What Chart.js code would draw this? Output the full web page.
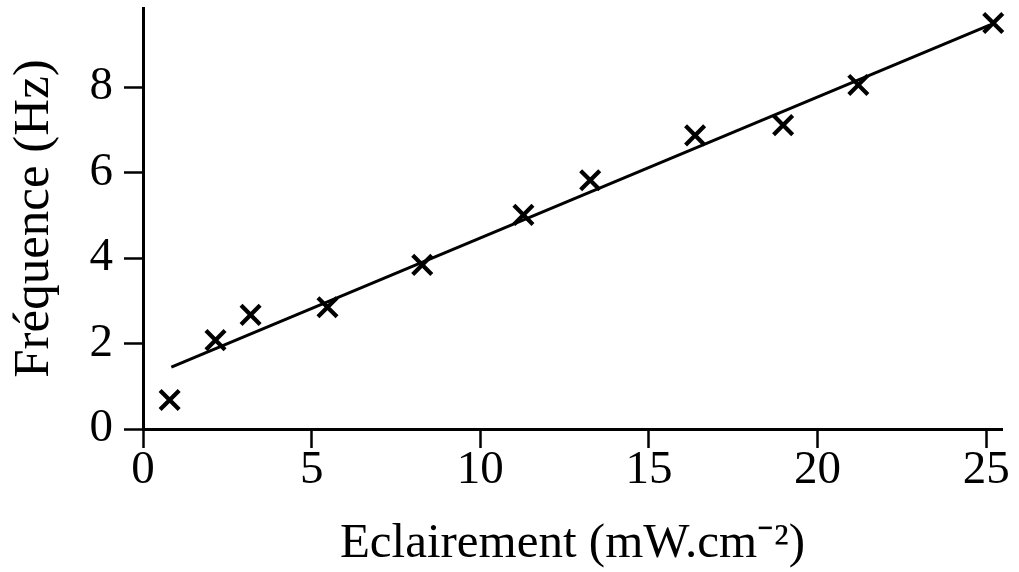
<!DOCTYPE html>
<html>
<head>
<meta charset="utf-8">
<script src="https://cdn.jsdelivr.net/npm/chart.js@4"></script>
<style>
  html, body { margin: 0; padding: 0; background: #fff; }
  #wrap { width: 1019px; height: 572px; position: relative; }
</style>
</head>
<body>
<div id="wrap"><canvas id="c"></canvas></div>
<script>
// Data
const eclairement = [0.79, 2.15, 3.19, 5.47, 8.28, 11.28, 13.26, 16.37, 18.98, 21.21, 25.21];
const frequence   = [0.68, 2.08, 2.67, 2.85, 3.84, 5.01, 5.82, 6.87, 7.11, 8.05, 9.50];
const fitX = [0.84, 25.1];
const fitY = [1.45, 9.45];
const xTicks = [0, 5, 10, 15, 20, 25];
const yTicks = [0, 2, 4, 6, 8];
const xTitle = 'Eclairement (mW.cm⁻²)';
const yTitle = 'Fréquence (Hz)';

const serif = "'Liberation Serif', 'Times New Roman', serif";

new Chart(document.getElementById('c'), {
  type: 'scatter',
  data: {
    datasets: [
      {
        data: eclairement.map((x, i) => ({ x, y: frequence[i] })),
        pointStyle: 'crossRot',
        pointRadius: 13.5,
        pointBorderWidth: 4.2,
        borderColor: '#000',
        backgroundColor: '#000',
        showLine: false,
        clip: false
      },
      {
        data: fitX.map((x, i) => ({ x, y: fitY[i] })),
        showLine: true,
        borderColor: '#000',
        borderWidth: 3,
        pointRadius: 0,
        fill: false,
        clip: false
      }
    ]
  },
  options: {
    responsive: true,
    maintainAspectRatio: false,
    animation: false,
    layout: { autoPadding: false, padding: { top: 8, right: 17, left: 0, bottom: 0 } },
    plugins: { legend: { display: false }, tooltip: { enabled: false } },
    scales: {
      x: {
        type: 'linear',
        min: 0, max: 25.47,
        afterBuildTicks: s => { s.ticks = xTicks.map(v => ({ value: v })); },
        afterFit: s => { s.height = 143; s.paddingLeft = 0; s.paddingRight = 0; },
        grid: { drawOnChartArea: false, drawTicks: true, tickLength: 19, tickColor: '#000', tickWidth: 2.5 },
        border: { display: true, color: '#000', width: 3 },
        ticks: { color: '#000', font: { family: serif, size: 47 }, padding: -6, maxRotation: 0 },
        title: { display: true, text: xTitle, color: '#000', font: { family: serif, size: 49, lineHeight: 1.2 }, padding: { top: 0, bottom: -2 } }
      },
      y: {
        type: 'linear',
        min: 0, max: 9.85,
        afterBuildTicks: s => { s.ticks = yTicks.map(v => ({ value: v })); },
        afterFit: s => { s.width = 143; s.paddingTop = 0; s.paddingBottom = 0; },
        grid: { drawOnChartArea: false, drawTicks: true, tickLength: 19, tickColor: '#000', tickWidth: 2.5 },
        border: { display: true, color: '#000', width: 3 },
        ticks: { color: '#000', font: { family: serif, size: 47 }, padding: 11 },
        title: { display: true, text: yTitle, color: '#000', font: { family: serif, size: 51, lineHeight: 1.2 }, padding: { top: 4, bottom: 0 } }
      }
    }
  }
});
</script>
</body>
</html>
